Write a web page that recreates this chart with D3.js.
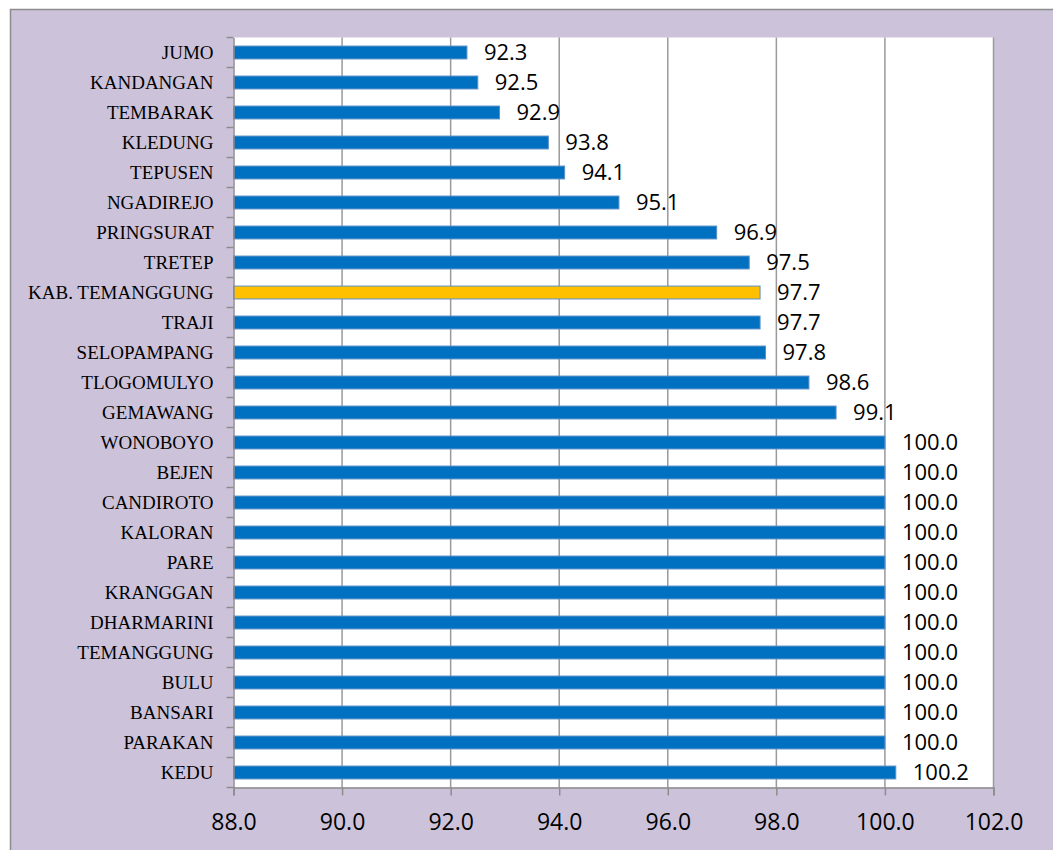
<!DOCTYPE html>
<html><head><meta charset="utf-8">
<script src="https://cdn.jsdelivr.net/npm/d3@7"></script>
<style>html,body{margin:0;padding:0;background:#fff;overflow:hidden}</style>
</head><body>
<svg id="chart" width="1053" height="850"></svg>
<script>
const categories = ["JUMO","KANDANGAN","TEMBARAK","KLEDUNG","TEPUSEN","NGADIREJO","PRINGSURAT","TRETEP","KAB. TEMANGGUNG","TRAJI","SELOPAMPANG","TLOGOMULYO","GEMAWANG","WONOBOYO","BEJEN","CANDIROTO","KALORAN","PARE","KRANGGAN","DHARMARINI","TEMANGGUNG","BULU","BANSARI","PARAKAN","KEDU"];
const values = [92.3,92.5,92.9,93.8,94.1,95.1,96.9,97.5,97.7,97.7,97.8,98.6,99.1,100.0,100.0,100.0,100.0,100.0,100.0,100.0,100.0,100.0,100.0,100.0,100.2];
const highlight = ["KAB. TEMANGGUNG"];
const xTicks = [88,90,92,94,96,98,100,102];

const svg = d3.select("#chart");
const W = 1053, H = 850;
const plot = {left: 233.5, right: 993.5, top: 37.5, bottom: 787.5};

// outer background
svg.append("rect").attr("x",10.5).attr("y",9.5).attr("width",W).attr("height",H)
  .attr("fill","#CCC3DB").attr("stroke","#8C8C8C").attr("stroke-width",1.5);

const x = d3.scaleLinear().domain([88,102]).range([plot.left, plot.right]);
const y = d3.scaleBand().domain(categories).range([plot.top, plot.bottom]).paddingInner(0.57).paddingOuter(0.285);
const yb = d3.scaleBand().domain(categories).range([plot.top, plot.bottom]);

svg.append("rect").attr("x",plot.left).attr("y",plot.top).attr("width",plot.right-plot.left).attr("height",plot.bottom-plot.top).attr("fill","#fff");

// gridlines
svg.append("g").selectAll("line").data(xTicks.slice(1)).join("line")
  .attr("x1",d=>x(d)).attr("x2",d=>x(d)).attr("y1",plot.top).attr("y2",plot.bottom)
  .attr("stroke","#9A9A9A").attr("stroke-width",1.5);

// bars
svg.append("g").selectAll("rect").data(categories).join("rect")
  .attr("x",x(88)).attr("y",d=>y(d)).attr("height",y.bandwidth())
  .attr("width",(d,i)=>x(values[i])-x(88))
  .attr("fill",d=>highlight.includes(d)?"#FFC000":"#0070C0")
  .attr("stroke","#5B8FC9").attr("stroke-width",1);

// value labels
svg.append("g").selectAll("text").data(categories).join("text")
  .attr("x",(d,i)=>x(values[i])+17).attr("y",d=>y(d)+y.bandwidth()/2)
  .attr("dy","0.36em")
  .attr("font-family","'Open Sans', 'Liberation Sans', sans-serif").attr("font-size",22).attr("fill","#000")
  .text((d,i)=>d3.format(".1f")(values[i]));

// y axis
const yAxis = d3.axisLeft(yb).tickSize(0).tickPadding(20);
const gy = svg.append("g").attr("transform",`translate(${plot.left},0)`).call(yAxis);
gy.select(".domain").attr("stroke","#8C8C8C").attr("stroke-width",1.5);
gy.selectAll("text").attr("font-family","'Liberation Serif', serif").attr("font-size",19).attr("fill","#000");
// category boundary tick marks
const bounds = categories.map(c=>yb(c)).concat([plot.bottom]);
svg.append("g").selectAll("line").data(bounds).join("line")
  .attr("x1",plot.left-7).attr("x2",plot.left).attr("y1",d=>d).attr("y2",d=>d)
  .attr("stroke","#8C8C8C").attr("stroke-width",1.5);

// x axis
const xAxis = d3.axisBottom(x).tickValues(xTicks).tickSize(8).tickPadding(18).tickFormat(d3.format(".1f"));
const gx = svg.append("g").attr("transform",`translate(0,${plot.bottom})`).call(xAxis);
gx.select(".domain").attr("stroke","#8C8C8C").attr("stroke-width",1.5);
gx.selectAll(".tick line").attr("stroke","#8C8C8C").attr("stroke-width",1.5);
gx.selectAll("text").attr("font-family","'Open Sans', 'Liberation Sans', sans-serif").attr("font-size",23).attr("fill","#000");
</script>
</body></html>
